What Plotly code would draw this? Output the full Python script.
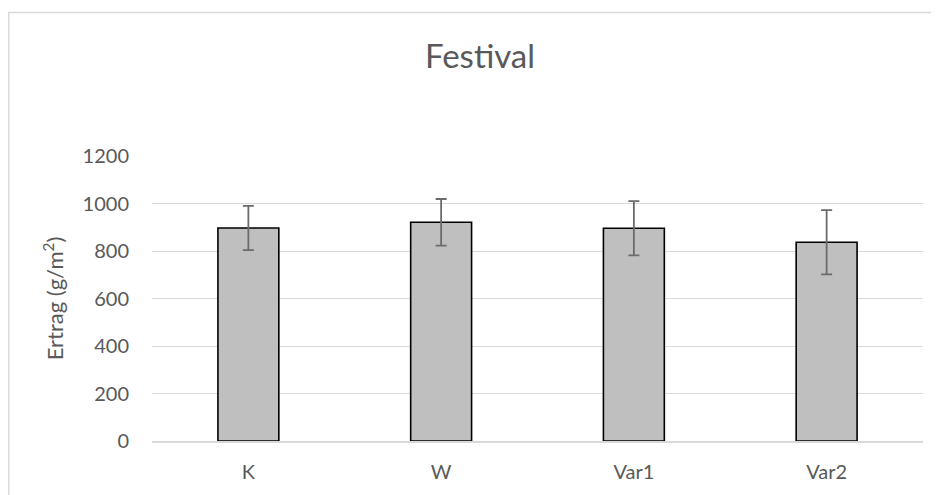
import plotly.graph_objects as go

categories = ["K", "W", "Var1", "Var2"]
ertrag = [897, 921, 896, 837]
fehler = [93, 98, 114, 135]
y_ticks = [0, 200, 400, 600, 800, 1000, 1200]

# page is drawn with an 8px body margin; compensate so page coords match
OFF = 8
W, H = 939 - OFF, 495 - OFF
L, T = 152 - OFF, 156 - OFF
R = W - (923 - OFF)
B = H - (441 - OFF)
pw = W - L - R
ph = H - T - B

FONT = "Lato"
TXT = "#595959"

fig = go.Figure()
fig.add_trace(go.Bar(
    x=categories, y=ertrag,
    marker=dict(color="#BFBFBF", line=dict(color="#000000", width=1.6)),
    error_y=dict(type="data", array=fehler, visible=True,
                 color="#6B6B6B", thickness=1.8, width=5.5),
    width=0.316,
))

fig.update_layout(
    width=W, height=H,
    margin=dict(l=L, r=R, t=T, b=B, autoexpand=False),
    paper_bgcolor="white", plot_bgcolor="white",
    font=dict(family=FONT, color=TXT, size=20),
    showlegend=False,
    title=dict(text="Festival", font=dict(family=FONT, size=33, color=TXT),
               x=(480 - OFF) / W, xref="container", xanchor="center",
               y=1 - (56 - OFF) / H, yref="container", yanchor="middle"),
    xaxis=dict(showgrid=False, showline=True, linecolor="#D9D9D9", linewidth=1.5,
               ticks="", tickfont=dict(size=20, color=TXT), ticklabelstandoff=12),
    yaxis=dict(range=[0, 1200], tickvals=y_ticks, ticktext=[str(v) for v in y_ticks],
               showgrid=True, gridcolor="#D9D9D9", gridwidth=1.3,
               zeroline=False, showline=False, ticks="",
               tickfont=dict(size=20, color=TXT), ticklabelstandoff=22,
               title=dict(text="Ertrag (g/m<sup>2</sup>)", font=dict(size=22, color=TXT),
                          standoff=12)),
    shapes=[dict(type="rect", xref="paper", yref="paper",
                 x0=(0.8 - L) / pw, x1=(960 - L) / pw,
                 y0=(ph - (520 - T)) / ph, y1=(ph - (12.5 - OFF - T)) / ph,
                 line=dict(color="#D9D9D9", width=1.5), fillcolor="rgba(0,0,0,0)",
                 layer="below")],
)

fig.write_html("out.html")
